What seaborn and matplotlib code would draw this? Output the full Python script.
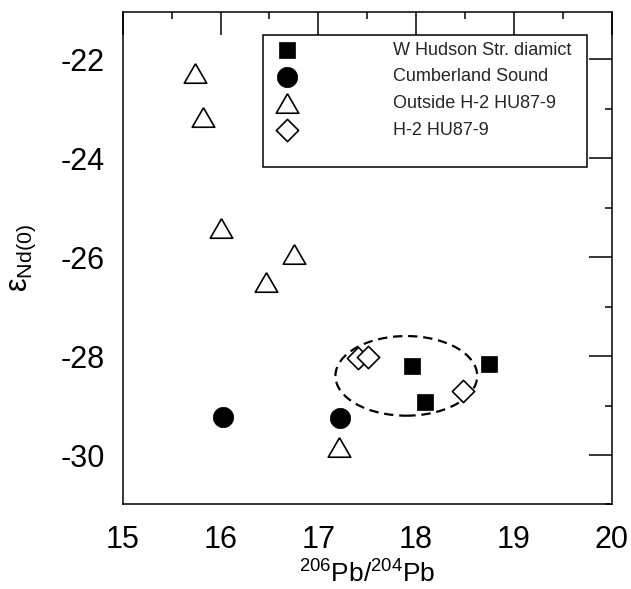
import numpy as np
import pandas as pd
import matplotlib
matplotlib.use("Agg")
import matplotlib.pyplot as plt
from matplotlib.patches import Ellipse, Rectangle
from matplotlib.markers import MarkerStyle
from matplotlib.ticker import MultipleLocator
import seaborn as sns

# ---- data ----
whudson_x = [17.96, 18.09, 18.75]
whudson_y = [-28.20, -28.92, -28.16]

cumberland_x = [16.03, 17.22]
cumberland_y = [-29.24, -29.26]

outside_x = [15.74, 15.82, 16.00, 16.75, 16.46, 17.21]
outside_y = [-22.27, -23.16, -25.42, -25.93, -26.51, -29.83]

h2_x = [17.41, 17.51, 18.48]
h2_y = [-28.04, -28.02, -28.70]

labels = ["W Hudson Str. diamict", "Cumberland Sound",
          "Outside H-2 HU87-9", "H-2 HU87-9"]

# dashed ellipse around the H-2 group (data units)
ellipse_center = (17.90, -28.40)
ellipse_width = 1.45
ellipse_height = 1.61

xlim = (15, 20)
ylim = (-31, -21.05)
xticks = [15, 16, 17, 18, 19, 20]
yticks = [-30, -28, -26, -24, -22]

# ---- style ----
sns.set_theme(style="white")
plt.rcParams["font.family"] = ["Liberation Sans", "DejaVu Sans"]
plt.rcParams["axes.unicode_minus"] = False
plt.rcParams["mathtext.fontset"] = "custom"
plt.rcParams["mathtext.rm"] = "Liberation Sans"
plt.rcParams["mathtext.it"] = "Liberation Sans:italic"
plt.rcParams["mathtext.bf"] = "Liberation Sans:bold"

fig = plt.figure(figsize=(6.31, 5.89), dpi=100)
ax = fig.add_axes([0.1945, 0.1435, 0.7749, 0.8356])

df = pd.concat([
    pd.DataFrame({"x": whudson_x, "y": whudson_y, "g": labels[0]}),
    pd.DataFrame({"x": cumberland_x, "y": cumberland_y, "g": labels[1]}),
    pd.DataFrame({"x": outside_x, "y": outside_y, "g": labels[2]}),
    pd.DataFrame({"x": h2_x, "y": h2_y, "g": labels[3]}),
], ignore_index=True)

tri = MarkerStyle([(0, 0.866), (-1, -0.866), (1, -0.866), (0, 0.866)])

styles = {
    labels[0]: dict(marker="s", s=138, color="black", edgecolor="black", linewidth=0.5),
    labels[1]: dict(marker="o", s=215, color="black", edgecolor="black", linewidth=0.5),
    labels[2]: dict(marker=tri, s=262, color="white", edgecolor="black", linewidth=1.2),
    labels[3]: dict(marker="D", s=128, color="white", edgecolor="black", linewidth=1.2),
}

handles = []
for g in labels:
    sub = df[df["g"] == g]
    sns.scatterplot(data=sub, x="x", y="y", ax=ax, label=g, zorder=3,
                    legend=False, **styles[g])
    handles.append(ax.collections[-1])

ell = Ellipse(ellipse_center, ellipse_width, ellipse_height, fill=False,
              edgecolor="black", linewidth=1.6, linestyle=(0, (4.2, 2.6)), zorder=2)
ax.add_patch(ell)

ax.set_xlim(*xlim)
ax.set_ylim(*ylim)
ax.set_xticks(xticks)
ax.set_yticks(yticks)
ax.xaxis.set_minor_locator(MultipleLocator(0.5))
ax.yaxis.set_minor_locator(MultipleLocator(1))
ax.tick_params(which="both", direction="in", top=True, right=True,
               color="black", width=1.1)
ax.tick_params(which="major", length=16.5, labelsize=22, labelcolor="black")
ax.tick_params(axis="x", which="major", pad=15)
ax.tick_params(axis="y", which="major", pad=13)
ax.tick_params(which="minor", length=5)
for sp in ax.spines.values():
    sp.set_color("black")
    sp.set_linewidth(1.1)

ax.set_xlabel(r"$^{\mathregular{206}}$Pb/$^{\mathregular{204}}$Pb",
              fontsize=19, color="black", labelpad=4)
ax.set_ylabel(r"ε$_{\mathregular{Nd(0)}}$", fontsize=22, color="black",
              labelpad=16)

# legend box
ax.add_patch(Rectangle((0.2863, 0.6851), 0.9501 - 0.2863, 0.9539 - 0.6851,
                       transform=ax.transAxes, facecolor="white",
                       edgecolor="black", linewidth=1.1, zorder=4))
leg = ax.legend(handles=handles, labels=labels, loc="upper left",
                bbox_to_anchor=(0.317, 0.9403), frameon=False, fontsize=13,
                borderpad=0, borderaxespad=0, handlelength=1.0,
                handletextpad=5.37, labelspacing=0.54, scatterpoints=1)
leg.set_zorder(5)

fig.savefig("out.png", dpi=100)
